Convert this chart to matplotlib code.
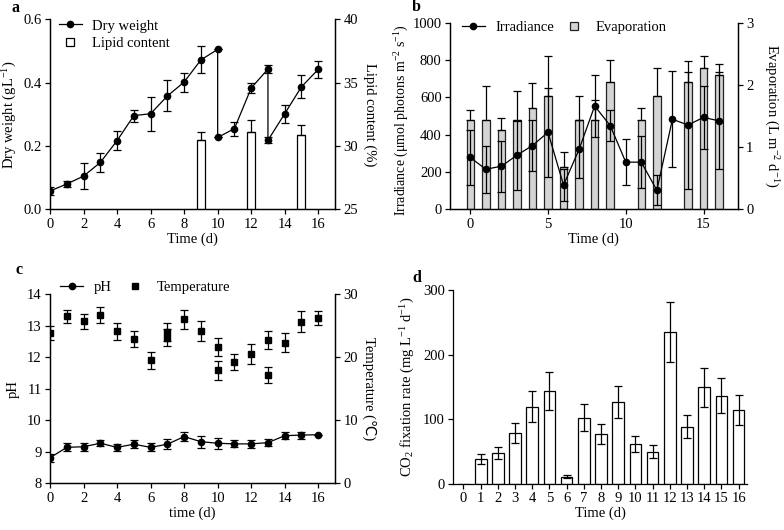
import numpy as np
import matplotlib
matplotlib.use('Agg')
import matplotlib.pyplot as plt
from matplotlib.lines import Line2D

plt.rcParams['font.family'] = ['Liberation Serif', 'DejaVu Sans']
plt.rcParams['mathtext.fontset'] = 'custom'
plt.rcParams['mathtext.rm'] = 'Liberation Serif'
plt.rcParams['mathtext.it'] = 'Liberation Serif:italic'
plt.rcParams['font.size'] = 10.5
plt.rcParams['axes.linewidth'] = 0.9
for a in ('xtick', 'ytick'):
    plt.rcParams[a + '.major.width'] = 0.9
    plt.rcParams[a + '.major.size'] = 3.5
    plt.rcParams[a + '.direction'] = 'out'
    plt.rcParams[a + '.major.pad'] = 2.5

# ---------------- data ----------------
# a: dry weight and lipid content
dw_day = [0, 1, 2, 3, 4, 5, 6, 7, 8, 9, 10, 10, 11, 12, 13, 13, 14, 15, 16]
dw_val = [0.058, 0.080, 0.105, 0.148, 0.217, 0.296, 0.302, 0.358, 0.402, 0.472,
          0.505, 0.227, 0.255, 0.383, 0.443, 0.218, 0.302, 0.387, 0.442]
dw_err = [0.012, 0.009, 0.040, 0.030, 0.029, 0.019, 0.054, 0.049, 0.030, 0.043,
          0.0, 0.0, 0.022, 0.015, 0.014, 0.010, 0.029, 0.036, 0.026]
lipid_day = [9, 12, 15]
lipid_val = [30.47, 31.13, 30.89]
lipid_err = [0.66, 0.92, 0.74]

# b: irradiance and evaporation
b_day = list(range(17))
irr_val = [278, 215, 231, 290, 342, 413, 130, 322, 554, 449, 253, 253, 102, 483, 452, 493, 474]
irr_err = [150, 126, 137, 185, 136, 240, 85, 156, 166, 83, 125, 139, 81, 256, 345, 167, 260]
evap_val = [1.444, 1.444, 1.273, 1.444, 1.626, 1.824, 0.684, 1.444, 1.444, 2.048,
            np.nan, 1.444, 1.824, np.nan, 2.048, 2.278, 2.155]
evap_err = [0.155, 0.535, 0.20, 0.46, 0.40, 0.64, 0.24, 0.38, 0.32, 0.36,
            np.nan, 0.18, 0.455, np.nan, 0.166, 0.187, 0.187]

# c: pH and temperature
ph_day = list(range(17))
ph_val = [8.81, 9.14, 9.16, 9.27, 9.14, 9.24, 9.14, 9.24, 9.48, 9.32, 9.27, 9.25, 9.25, 9.29, 9.51, 9.53, 9.54]
ph_err = [0.13, 0.13, 0.13, 0.10, 0.12, 0.12, 0.13, 0.15, 0.15, 0.19, 0.18, 0.11, 0.12, 0.10, 0.12, 0.11, 0.0]
temp_day = [0, 1, 2, 3, 4, 5, 6, 7, 7, 8, 9, 10, 10, 11, 12, 13, 13, 14, 15, 16]
temp_val = [23.8, 26.5, 25.7, 26.7, 24.1, 22.9, 19.5, 24.0, 23.1, 26.0, 24.2,
            21.6, 17.9, 19.2, 20.5, 22.7, 17.2, 22.3, 25.6, 26.2]
temp_err = [1.1, 1.05, 1.2, 1.25, 1.3, 1.3, 1.35, 1.4, 1.4, 1.5, 1.6,
            1.4, 1.45, 1.3, 1.6, 1.4, 1.3, 1.5, 1.65, 1.05]

# d: CO2 fixation rate
co2_day = list(range(17))
co2_val = [0, 38.2, 47.0, 78.5, 119.3, 143.5, 10.8, 102.2, 77.4, 127.0, 61.4, 49.6, 234.4, 88.3, 149.0, 136.3, 114.6]
co2_err = [0, 8.3, 9.5, 16.0, 24.0, 29.0, 2.0, 20.5, 15.7, 25.0, 12.4, 10.0, 46.5, 17.4, 30.0, 27.4, 23.0]

# ---------------- figure ----------------
fig = plt.figure(figsize=(7.84, 5.30), dpi=100)
ebkw = dict(ecolor='black', elinewidth=0.9, capsize=3.0, capthick=0.9)
lfs = 10.5

# ---- a ----
ax = fig.add_axes([0.0638, 0.605, 0.3635, 0.3585])
ax2 = ax.twinx()
ax2.bar(lipid_day, lipid_val, width=0.48, color='white', edgecolor='black', linewidth=0.9,
        bottom=0)
ax2.errorbar(lipid_day, lipid_val, yerr=[np.zeros(len(lipid_err)), lipid_err], fmt='none', **ebkw)
ax2.set_ylim(25, 40)
ax2.set_yticks([25, 30, 35, 40])
ax2.set_ylabel('Lipid content (%)', rotation=270, labelpad=13)
ax.errorbar(dw_day, dw_val, yerr=dw_err, fmt='-o', color='black', ms=4.5, lw=0.9, **ebkw)
ax.set_zorder(ax2.get_zorder() + 1)
ax.patch.set_visible(False)
ax.set_xlim(0, 17)
ax.set_ylim(0, 0.6)
ax.set_xticks(range(0, 17, 2))
ax.set_yticks([0.0, 0.2, 0.4, 0.6])
ax.set_yticklabels(['0.0', '0.2', '0.4', '0.6'])
ax.set_xlabel('Time (d)', labelpad=1)
ax.set_ylabel('Dry weight (gL$^{-1}$)', labelpad=3)
for s in (ax, ax2):
    s.spines['top'].set_visible(False)
h1 = Line2D([], [], color='black', marker='o', ms=4.5, lw=0.9)
h2 = Line2D([], [], color='black', marker='s', ms=6, mfc='white', mew=0.9, ls='none')
ax.legend([h1, h2], ['Dry weight', 'Lipid content'], loc='upper left', bbox_to_anchor=(0.03, 1.0),
          frameon=False, handlelength=1.6, handletextpad=0.7, borderpad=0, borderaxespad=0,
          labelspacing=0.3, fontsize=lfs)
fig.text(12 / 784, 1 - 8 / 530, 'a', fontweight='bold', fontsize=11.5, va='center', ha='left')

# ---- b ----
bx = fig.add_axes([0.574, 0.605, 0.367, 0.352])
bx2 = bx.twinx()
ev = np.array(evap_val, dtype=float)
ee = np.array(evap_err, dtype=float)
bd = np.array(b_day)
m = np.isfinite(ev)
bx2.bar(bd[m], ev[m], width=0.48, color='#d4d4d4', edgecolor='#222222', linewidth=0.9)
bx2.errorbar(bd[m], ev[m], yerr=[np.zeros(m.sum()), ee[m]], fmt='none', **ebkw)
bx2.set_ylim(0, 3)
bx2.set_yticks([0, 1, 2, 3])
bx2.set_ylabel('Evaporation (L m$^{-2}$ d$^{-1}$)', rotation=270, labelpad=19)
bx.errorbar(b_day, irr_val, yerr=irr_err, fmt='-o', color='black', ms=4.5, lw=0.9, **ebkw)
bx.set_zorder(bx2.get_zorder() + 1)
bx.patch.set_visible(False)
bx.set_xlim(-1.3, 17.2)
bx.set_ylim(0, 1000)
bx.set_xticks([0, 5, 10, 15])
bx.set_yticks(range(0, 1001, 200))
bx.set_xlabel('Time (d)', labelpad=1)
bx.set_ylabel('Irradiance (\u03bcmol photons m$^{-2}$ s$^{-1}$)', labelpad=-3, fontsize=10)
bx.yaxis.set_label_coords(-0.135, 0.48)
for s in (bx, bx2):
    s.spines['top'].set_visible(False)
h1 = Line2D([], [], color='black', marker='o', ms=4.5, lw=0.9)
h2 = Line2D([], [], color='#222222', marker='s', ms=6, mfc='#d4d4d4', mew=0.9, ls='none')
bx.legend([h1, h2], ['Irradiance', 'Evaporation'], loc='center left', bbox_to_anchor=(0.04, 0.977),
          ncol=2, frameon=False, handlelength=1.6, handletextpad=0.7, borderpad=0, borderaxespad=0,
          columnspacing=0.6, fontsize=lfs)
fig.text(412 / 784, 1 - 7 / 530, 'b', fontweight='bold', fontsize=11.5, va='center', ha='left')

# ---- c ----
cx = fig.add_axes([0.0638, 0.0881, 0.3635, 0.357])
cx2 = cx.twinx()
cx2.errorbar(temp_day, temp_val, yerr=temp_err, fmt='s', color='black', ms=4.5, **ebkw)
cx2.set_ylim(0, 30)
cx2.set_yticks([0, 10, 20, 30])
cx2.set_ylabel('Temperature (\u2103)', rotation=270, labelpad=13)
cx.errorbar(ph_day, ph_val, yerr=ph_err, fmt='-o', color='black', ms=4.5, lw=0.9, **ebkw)
cx.set_zorder(cx2.get_zorder() + 1)
cx.patch.set_visible(False)
cx.set_xlim(0, 17)
cx.set_ylim(8, 14)
cx.set_xticks(range(0, 17, 2))
cx.set_yticks(range(8, 15))
cx.set_xlabel('time (d)', labelpad=1)
cx.set_ylabel('pH', labelpad=5)
for s in (cx, cx2):
    s.spines['top'].set_visible(False)
h1 = Line2D([], [], color='black', marker='o', ms=4.5, lw=0.9)
h2 = Line2D([], [], color='black', marker='s', ms=4.5, ls='none')
cx.legend([h1, h2], ['pH', 'Temperature'], loc='center left', bbox_to_anchor=(0.035, 1.033),
          ncol=2, frameon=False, handlelength=1.6, handletextpad=0.7, borderpad=0, borderaxespad=0,
          columnspacing=0.8, fontsize=lfs)
fig.text(15 / 784, 1 - 270 / 530, 'c', fontweight='bold', fontsize=11.5, va='center', ha='left')

# ---- d ----
dx = fig.add_axes([0.578, 0.0874, 0.375, 0.3655])
dx.bar(co2_day, co2_val, width=0.68, color='white', edgecolor='black', linewidth=0.9)
dd = np.array(co2_day)
cv = np.array(co2_val)
ce = np.array(co2_err)
md = ce > 0
dx.errorbar(dd[md], cv[md], yerr=ce[md], fmt='none', **ebkw)
dx.set_xlim(-0.6, 16.5)
dx.set_ylim(0, 300)
dx.set_xticks(co2_day)
dx.set_yticks([0, 100, 200, 300])
dx.set_xlabel('Time (d)', labelpad=1)
dx.set_ylabel('CO$_2$ fixation rate (mg L$^{-1}$ d$^{-1}$)', labelpad=4)
dx.spines['top'].set_visible(False)
dx.spines['right'].set_visible(False)
fig.text(412 / 784, 1 - 278 / 530, 'd', fontweight='bold', fontsize=11.5, va='center', ha='left')

fig.savefig('out.png', dpi=100)
